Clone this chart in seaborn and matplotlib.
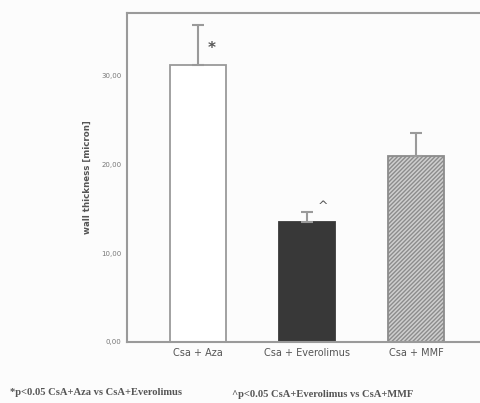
"""Wall thickness by treatment group, bar chart with SEM error bars."""

import matplotlib

matplotlib.use("Agg")
import matplotlib.pyplot as plt
import pandas as pd
import seaborn as sns

groups = ["Csa + Aza", "Csa + Everolimus", "Csa + MMF"]
means = [31.2, 13.5, 21.0]
upper_err = [4.5, 1.2, 2.6]
marks = ["*", "^", ""]
y_ticks = [0, 10, 20, 30]
y_tick_labels = ["0,00", "10,00", "20,00", "30,00"]
notes = [
    "*p<0.05 CsA+Aza vs CsA+Everolimus",
    "^p<0.05 CsA+Everolimus vs CsA+MMF",
]

line_grey = "#9a9a9a"


def main() -> None:
    sns.set_style("white")
    plt.rcParams["font.family"] = ["DejaVu Sans"]

    df = pd.DataFrame({"group": groups, "mean": means, "err": upper_err})

    fig = plt.figure(figsize=(4.8, 4.03), dpi=100)
    fig.patch.set_facecolor("#fcfcfc")
    ax = fig.add_axes([0.2646, 0.1514, 0.80, 0.8163])
    ax.set_facecolor("#fcfcfc")

    sns.barplot(data=df, x="group", y="mean", errorbar=None, width=0.51, ax=ax)

    faces = ["#ffffff", "#383838", "#cfcfcf"]
    edges = [line_grey, "#383838", "#8c8c8c"]
    hatches = [None, None, "////////"]
    for bar, fc, ec, h in zip(ax.patches, faces, edges, hatches):
        bar.set_facecolor(fc)
        bar.set_edgecolor(ec)
        bar.set_linewidth(1.3)
        if h:
            bar.set_hatch(h)

    xs = list(range(len(groups)))
    ax.errorbar(
        xs,
        df["mean"],
        yerr=[[0] * len(groups), df["err"]],
        fmt="none",
        ecolor=line_grey,
        elinewidth=1.5,
        capsize=4,
        capthick=1.5,
        zorder=1,
    )

    for x, m, e, s in zip(xs, means, upper_err, marks):
        if s == "*":
            ax.text(x + 0.13, m + 1.9, s, fontsize=11, color="#555555",
                    ha="center", va="center", fontweight="bold")
        elif s == "^":
            ax.text(x + 0.15, m + 1.8, s, fontsize=9, color="#555555",
                    ha="center", va="center")

    ax.set_xlim(-0.65, 2.87)
    ax.set_ylim(0, 37.1)
    ax.set_yticks(y_ticks)
    ax.set_yticklabels(y_tick_labels, fontsize=5, color="#777777")
    ax.tick_params(axis="y", length=3, width=0.8, color=line_grey, pad=1)
    ax.tick_params(axis="x", length=0, pad=4, labelsize=7, labelcolor="#555555")
    ax.set_xlabel("")
    ax.set_ylabel("wall thickness [micron]", fontsize=6.2, fontweight="bold",
                  color="#555555", labelpad=7)

    for side in ["left", "bottom", "top", "right"]:
        ax.spines[side].set_color(line_grey)
        ax.spines[side].set_linewidth(1.5)

    fig.text(0.02, 0.027, notes[0], fontsize=7.6, family="Liberation Serif",
             fontweight="bold", color="#555555", va="center")
    fig.text(0.483, 0.020, notes[1], fontsize=7.6, family="Liberation Serif",
             fontweight="bold", color="#555555", va="center")

    fig.savefig("out.png", dpi=100, facecolor=fig.get_facecolor())
    plt.close(fig)


if __name__ == "__main__":
    main()
